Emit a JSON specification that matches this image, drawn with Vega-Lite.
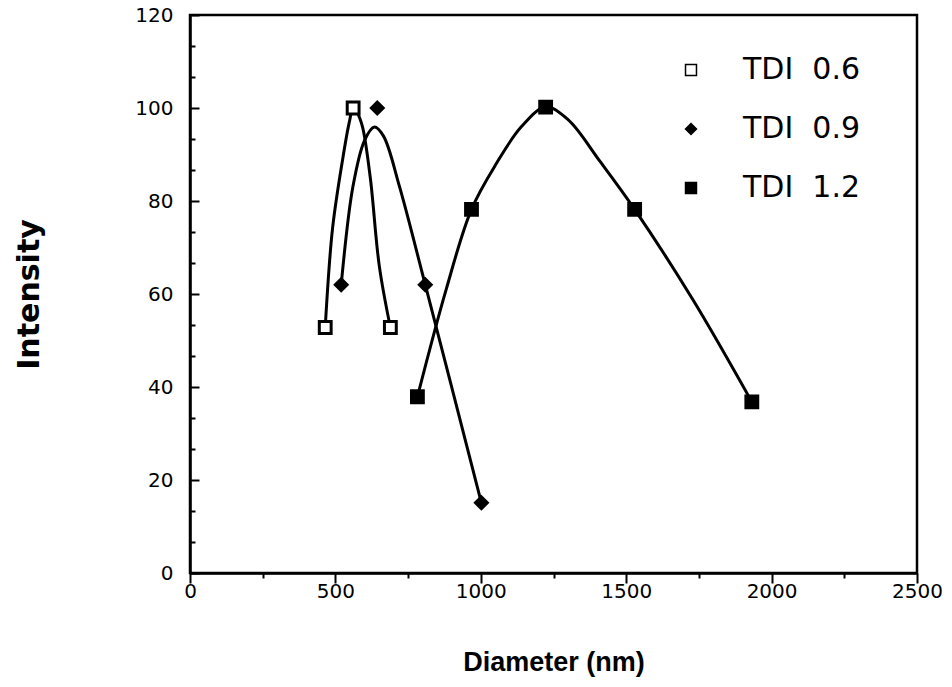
{
  "$schema": "https://vega.github.io/schema/vega-lite/v6.json",
  "width": 727,
  "height": 558,
  "autosize": {"type": "none"},
  "padding": {"left": 190, "top": 15, "right": 35, "bottom": 114},
  "background": "white",
  "datasets": {
    "pts": [
      {"series": "TDI 0.6", "d": 465, "i": 52.8},
      {"series": "TDI 0.6", "d": 561, "i": 100},
      {"series": "TDI 0.6", "d": 689, "i": 52.8},
      {"series": "TDI 0.9", "d": 520, "i": 62},
      {"series": "TDI 0.9", "d": 644, "i": 100},
      {"series": "TDI 0.9", "d": 809, "i": 62},
      {"series": "TDI 0.9", "d": 1002, "i": 15.1},
      {"series": "TDI 1.2", "d": 782, "i": 37.9},
      {"series": "TDI 1.2", "d": 968, "i": 78.2},
      {"series": "TDI 1.2", "d": 1223, "i": 100.2},
      {"series": "TDI 1.2", "d": 1529, "i": 78.2},
      {"series": "TDI 1.2", "d": 1932, "i": 36.8}
    ],
    "curve": [
      {"series": "TDI 0.6", "d": 465, "i": 52.8},
      {"series": "TDI 0.6", "d": 490, "i": 74},
      {"series": "TDI 0.6", "d": 525, "i": 89},
      {"series": "TDI 0.6", "d": 548, "i": 97},
      {"series": "TDI 0.6", "d": 561, "i": 100},
      {"series": "TDI 0.6", "d": 575, "i": 99},
      {"series": "TDI 0.6", "d": 593, "i": 96},
      {"series": "TDI 0.6", "d": 620, "i": 85},
      {"series": "TDI 0.6", "d": 651, "i": 66},
      {"series": "TDI 0.6", "d": 689, "i": 52.8},
      {"series": "TDI 0.9", "d": 520, "i": 62},
      {"series": "TDI 0.9", "d": 560, "i": 83},
      {"series": "TDI 0.9", "d": 600, "i": 93},
      {"series": "TDI 0.9", "d": 634, "i": 95.9},
      {"series": "TDI 0.9", "d": 665, "i": 94},
      {"series": "TDI 0.9", "d": 720, "i": 83.2},
      {"series": "TDI 0.9", "d": 809, "i": 62},
      {"series": "TDI 0.9", "d": 1002, "i": 15.1},
      {"series": "TDI 1.2", "d": 782, "i": 37.9},
      {"series": "TDI 1.2", "d": 881, "i": 61},
      {"series": "TDI 1.2", "d": 968, "i": 78.2},
      {"series": "TDI 1.2", "d": 1053, "i": 88},
      {"series": "TDI 1.2", "d": 1140, "i": 96},
      {"series": "TDI 1.2", "d": 1223, "i": 100.2},
      {"series": "TDI 1.2", "d": 1300, "i": 97.5},
      {"series": "TDI 1.2", "d": 1410, "i": 88.5},
      {"series": "TDI 1.2", "d": 1529, "i": 78.2},
      {"series": "TDI 1.2", "d": 1729, "i": 58.8},
      {"series": "TDI 1.2", "d": 1932, "i": 36.8}
    ]
  },
  "config": {
    "view": {"stroke": "black", "strokeWidth": 2.5},
    "axis": {
      "domainColor": "black",
      "domainWidth": 2.5,
      "tickColor": "black",
      "tickWidth": 2,
      "grid": false,
      "labelFont": "DejaVu Sans",
      "labelFontSize": 20,
      "labelColor": "black",
      "labelOverlap": false,
      "labelFlush": false,
      "titleFont": "DejaVu Sans",
      "titleFontSize": 27,
      "titleFontWeight": "bold",
      "titleColor": "black"
    }
  },
  "encoding": {
    "x": {
      "field": "d", "type": "quantitative",
      "scale": {"domain": [0, 2500], "nice": false},
      "axis": {
        "title": "Diameter (nm)",
        "titleFont": "Liberation Sans",
        "titleFontSize": 27,
        "values": [0, 250, 500, 750, 1000, 1250, 1500, 1750, 2000, 2250, 2500],
        "labelExpr": "datum.value % 500 === 0 ? datum.label : ''",
        "labelOverlap": false,
        "format": "d",
        "tickSize": {"condition": {"test": "datum.value % 500 === 0", "value": 10}, "value": 5},
        "labelPadding": -2,
        "titlePadding": 48
      }
    },
    "y": {
      "field": "i", "type": "quantitative",
      "scale": {"domain": [0, 120], "nice": false},
      "axis": {
        "title": "Intensity",
        "titleFontSize": 30,
        "values": [0, 6.67, 13.33, 20, 26.67, 33.33, 40, 46.67, 53.33, 60, 66.67, 73.33, 80, 86.67, 93.33, 100, 106.67, 113.33, 120],
        "format": "d",
        "labelExpr": "datum.value % 20 === 0 ? datum.label : ''",
        "labelOverlap": false,
        "tickSize": {"condition": {"test": "datum.value % 20 === 0", "value": -9}, "value": -5},
        "labelPadding": 26,
        "titlePadding": 90
      }
    }
  },
  "layer": [
    {
      "data": {"name": "curve"},
      "mark": {"type": "line", "interpolate": "catmull-rom", "color": "black", "strokeWidth": 3},
      "encoding": {
        "detail": {"field": "series"}
      }
    },
    {
      "data": {"name": "pts"},
      "mark": {"type": "point", "filled": false, "stroke": "black", "strokeWidth": 3, "opacity": 1, "size": 140},
      "encoding": {
        "shape": {
          "field": "series", "type": "nominal",
          "scale": {"domain": ["TDI 0.6", "TDI 0.9", "TDI 1.2"], "range": ["square", "diamond", "square"]},
          "legend": {
            "title": null,
            "orient": "none",
            "legendX": 486,
            "legendY": 40,
            "labelFont": "DejaVu Sans",
            "labelFontSize": 30,
            "labelColor": "black",
            "labelOffset": 37,
            "rowPadding": 29,
            "symbolSize": 120,
            "labelExpr": "replace(datum.label, ' ', '\u00a0\u00a0')",
            "encode": {"symbols": {"update": {"stroke": {"value": "black"}, "strokeWidth": {"value": 2.5}}}}
          }
        },
        "fill": {
          "field": "series", "type": "nominal",
          "scale": {"domain": ["TDI 0.6", "TDI 0.9", "TDI 1.2"], "range": ["white", "black", "black"]},
          "legend": {
            "title": null,
            "orient": "none",
            "legendX": 486,
            "legendY": 40,
            "labelFont": "DejaVu Sans",
            "labelFontSize": 30,
            "labelColor": "black",
            "labelOffset": 37,
            "rowPadding": 29,
            "symbolSize": 120,
            "labelExpr": "replace(datum.label, ' ', '\u00a0\u00a0')",
            "encode": {"symbols": {"update": {"stroke": {"value": "black"}, "strokeWidth": {"value": 2.5}}}}
          }
        }
      }
    }
  ]
}
